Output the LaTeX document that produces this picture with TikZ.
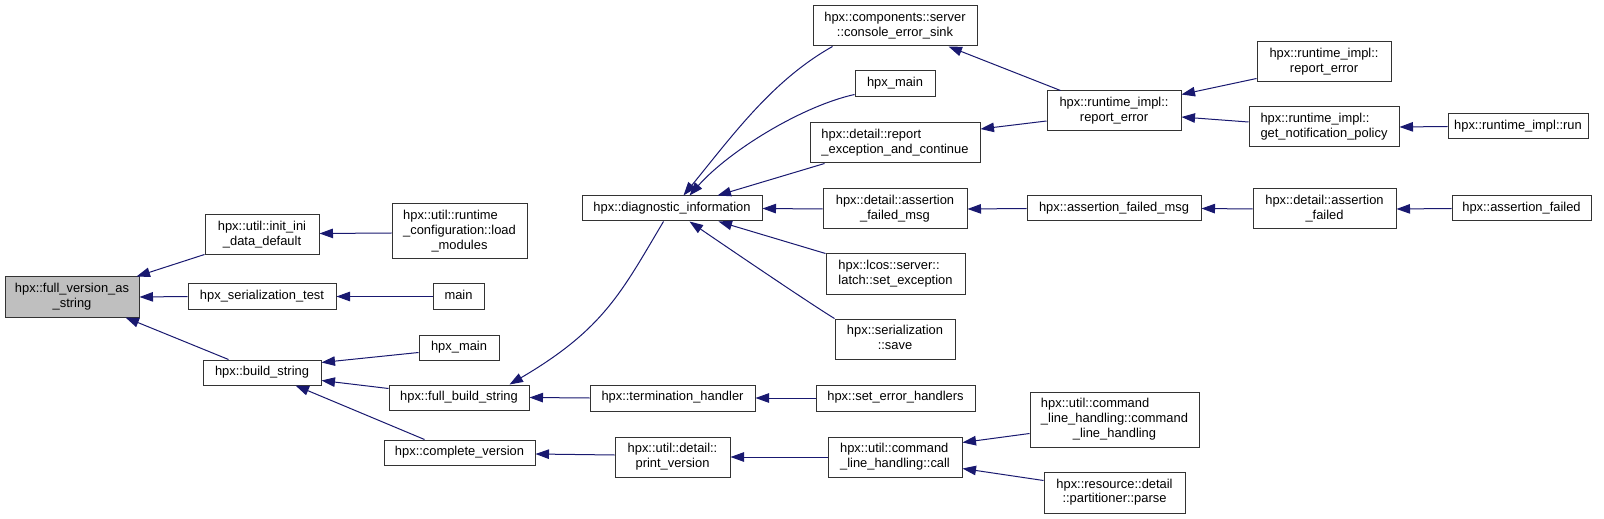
\documentclass[tikz,border=0pt]{standalone}
\usepackage{fontspec}
\setmainfont{Liberation Sans}
\usetikzlibrary{arrows.meta,calc}
\definecolor{edgeblue}{RGB}{25,25,112}
\definecolor{rootgray}{RGB}{191,191,191}
\newcommand\lnone[1]{\begin{tabular}{@{}c@{}}#1\end{tabular}}
\newcommand\lntwo[2]{\begin{tabular}{@{}l@{}}#1\\\multicolumn{1}{@{}c@{}}{#2}\end{tabular}}
\newcommand\lnthree[3]{\begin{tabular}{@{}l@{}}#1\\#2\\\multicolumn{1}{@{}c@{}}{#3}\end{tabular}}
\newcommand\bx[7][]{\node[box,#1, minimum width={(#5-#3)*1bp}, minimum height={(#6-#4)*1bp}] (#2) at ({(#3+#5)/2},{(#4+#6)/2}) {#7};}
\begin{document}
\begin{tikzpicture}[x=1bp,y=-1bp,
  box/.style={draw=black!80, line width=1bp, inner sep=0pt, fill=white, font=\fontsize{12.95}{14.7}\selectfont},
  e/.style={draw=edgeblue, line width=1bp, -{Triangle[length=13.5bp,width=9.5bp]}}]
\useasboundingbox[fill=white] (0,0) rectangle (1604,519);
% nodes
\bx[fill=rootgray]{full}{5}{277}{139}{317}{\lntwo{hpx::full\_version\_as}{\_string}}
\bx{init}{205}{215}{319}{255}{\lntwo{hpx::util::init\_ini}{\_data\_default}}
\bx{lm}{392}{204}{527}{259}{\lnthree{hpx::util::runtime}{\_configuration::load}{\_modules}}
\bx{stest}{188}{284}{336}{309}{\lnone{hpx\_serialization\_test}}
\bx{main}{433}{284}{484}{309}{\lnone{main}}
\bx{hmb}{419}{335}{499}{360}{\lnone{hpx\_main}}
\bx{bstr}{203}{360}{321}{385}{\lnone{hpx::build\_string}}
\bx{fbs}{389}{385}{529}{410}{\lnone{hpx::full\_build\_string}}
\bx{cv}{384}{440}{535}{465}{\lnone{hpx::complete\_version}}
\bx{cons}{813}{6}{977}{46}{\lntwo{hpx::components::server}{::console\_error\_sink}}
\bx{hma}{855}{71}{935}{97}{\lnone{hpx\_main}}
\bx{rex}{810}{123}{980}{163}{\lntwo{hpx::detail::report}{\_exception\_and\_continue}}
\bx{diag}{582}{196}{762}{221}{\lnone{hpx::diagnostic\_information}}
\bx{damsg}{823}{189}{967}{229}{\lntwo{hpx::detail::assertion}{\_failed\_msg}}
\bx{latch}{826}{254}{965}{294}{\lntwo{hpx::lcos::server::}{latch::set\_exception}}
\bx{save}{835}{319}{955}{359}{\lntwo{hpx::serialization}{::save}}
\bx{th}{590}{385}{755}{411}{\lnone{hpx::termination\_handler}}
\bx{seh}{816}{385}{975}{411}{\lnone{hpx::set\_error\_handlers}}
\bx{pv}{615}{437}{730}{477}{\lntwo{hpx::util::detail::}{print\_version}}
\bx{call}{828}{437}{962}{477}{\lntwo{hpx::util::command}{\_line\_handling::call}}
\bx{rerr}{1047}{91}{1181}{131}{\lntwo{hpx::runtime\_impl::}{report\_error}}
\bx{rre}{1257}{42}{1391}{82}{\lntwo{hpx::runtime\_impl::}{report\_error}}
\bx{pol}{1249}{107}{1399}{147}{\lntwo{hpx::runtime\_impl::}{get\_notification\_policy}}
\bx{run}{1448}{114}{1588}{139}{\lnone{hpx::runtime\_impl::run}}
\bx{afm}{1027}{196}{1201}{221}{\lnone{hpx::assertion\_failed\_msg}}
\bx{daf}{1253}{189}{1396}{229}{\lntwo{hpx::detail::assertion}{\_failed}}
\bx{af}{1452}{196}{1591}{221}{\lnone{hpx::assertion\_failed}}
\bx{cmdlh}{1030}{392}{1199}{447}{\lnthree{hpx::util::command}{\_line\_handling::command}{\_line\_handling}}
\bx{parse}{1044}{472}{1185}{513}{\lntwo{hpx::resource::detail}{::partitioner::parse}}
% edges
\draw[e] ($(init.south west)+(0,-1)$) -- ($(full.north east)+(-3,0)$);
\draw[e] (stest.west) -- (full.east);
\draw[e] ($(bstr.north west)+(26,0)$) -- ($(full.south east)+(-14,0)$);
\draw[e] ($(lm.west)+(0,1.5)$) -- ($(init.east)+(0,-1.5)$);
\draw[e] (main.west) -- (stest.east);
\draw[e] ($(hmb.west)+(0,5)$) -- ($(bstr.north east)+(0,3)$);
\draw[e] ($(fbs.north west)+(0,4)$) -- ($(bstr.south east)+(0,-5)$);
\draw[e] ($(cv.north west)+(41,0)$) -- ($(bstr.south east)+(-26,0)$);
\draw[e] ($(pv.west)+(0,-2)$) -- ($(cv.east)+(0,1.5)$);
\draw[e] (th.west) -- (fbs.east);
\draw[e] (seh.west) -- (th.east);
\draw[e] (call.west) -- (pv.east);
\draw[e] ($(cmdlh.south west)+(0,-14)$) -- ($(call.north east)+(0,6)$);
\draw[e] ($(parse.north west)+(0,9)$) -- ($(call.south east)+(0,-9)$);
\draw[e] ($(diag.south west)+(82,0)$) .. controls (621.5,292) and (604,329) .. ($(fbs.north west)+(121,0)$);
\draw[e] ($(cons.south west)+(20,0)$) .. controls (773,80) and (734,133.5) .. ($(diag.north west)+(102,0)$);
\draw[e] ($(hma.south west)+(0,-3)$) .. controls (802.5,106) and (730,150) .. ($(diag.north west)+(108,0)$);
\draw[e] (save.north west) .. controls (809,303) and (715,239) .. ($(diag.south west)+(108,0)$);
\draw[e] ($(rex.south west)+(15,0)$) -- ($(diag.north east)+(-45,0)$);
\draw[e] (damsg.west) -- (diag.east);
\draw[e] (latch.north west) -- ($(diag.south east)+(-44,0)$);
\draw[e] ($(rerr.west)+(0,10)$) -- ($(rex.east)+(0,-14)$);
\draw[e] ($(rerr.north west)+(14,0)$) -- ($(cons.south east)+(-29,0)$);
\draw[e] ($(rre.south west)+(0,-4)$) -- ($(rerr.north east)+(0,4)$);
\draw[e] ($(pol.west)+(0,-5)$) -- ($(rerr.east)+(0,6)$);
\draw[e] (run.west) -- (pol.east);
\draw[e] (afm.west) -- (damsg.east);
\draw[e] (daf.west) -- (afm.east);
\draw[e] (af.west) -- (daf.east);
\end{tikzpicture}
\end{document}
